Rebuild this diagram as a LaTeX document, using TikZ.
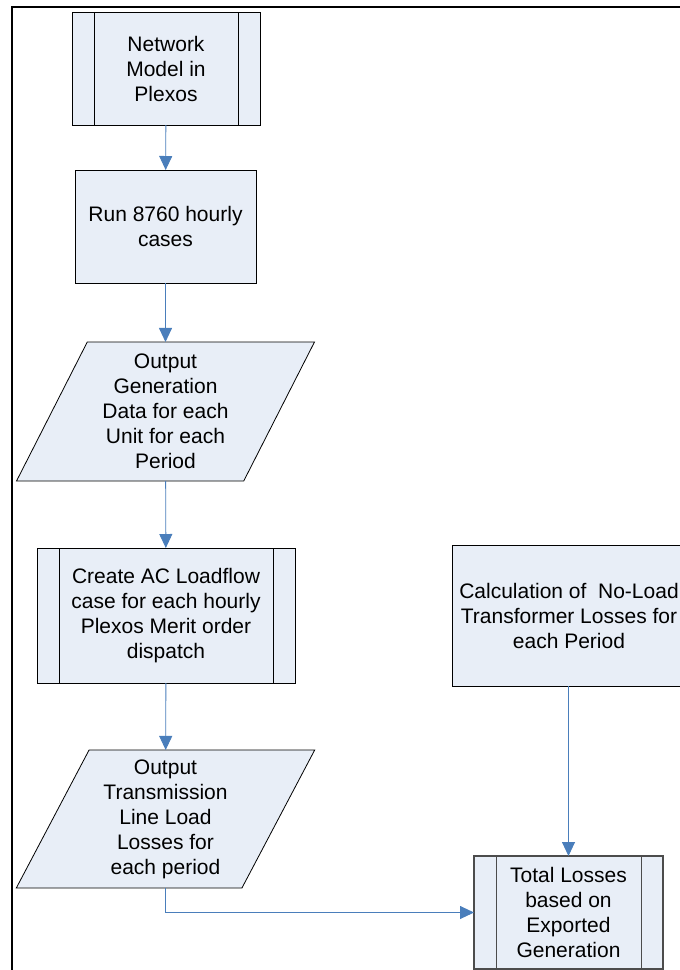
\documentclass[tikz,border=0pt]{standalone}
\usepackage{fontspec}
\setmainfont{Liberation Sans}
\usetikzlibrary{shapes.geometric,arrows.meta}
\definecolor{boxfill}{RGB}{232,238,247}
\definecolor{arrowblue}{RGB}{74,126,187}
\begin{document}
\begin{tikzpicture}[x=1pt,y=-1pt,
  every node/.style={font=\fontsize{21}{25}\selectfont, align=center, inner sep=0pt, outer sep=0pt},
  procbox/.style={draw=black, line width=0.8pt, fill=boxfill, rectangle},
  subproc/.style={procbox, path picture={\draw[line width=0.8pt]
      ([xshift=22pt]path picture bounding box.north west) -- ([xshift=22pt]path picture bounding box.south west)
      ([xshift=-22pt]path picture bounding box.north east) -- ([xshift=-22pt]path picture bounding box.south east);}},
  iobox/.style={draw=black, line width=0.8pt, fill=boxfill, trapezium, trapezium left angle=63.6,
      trapezium right angle=116.4, trapezium stretches=true, minimum width=299pt, minimum height=139pt},
  flow/.style={draw=arrowblue, line width=0.9pt, -{Triangle[length=14pt,width=13pt]}}]
\useasboundingbox (0,0) rectangle (680,970);
\clip (0,0) rectangle (680,970);
\draw[line width=2.5pt] (12,7) rectangle (740,1010);

\node[subproc, minimum width=188pt, minimum height=113pt] (net) at (166,68.5) {Network\\Model in\\Plexos};
\node[procbox, minimum width=181pt, minimum height=113pt] (run) at (165.5,226.5) {Run 8760 hourly\\cases};
\node[iobox] (gen) at (165.5,411.5) {Output\\Generation\\Data for each\\Unit for each\\Period};
\node[subproc, minimum width=258pt, minimum height=135pt] (ac) at (166,615.5) {Create AC Loadflow\\case for each hourly\\Plexos Merit order\\dispatch};
\node[iobox, minimum height=138pt] (tl) at (165.5,819) {Output\\Transmission\\Line Load\\Losses for\\each period};
\node[procbox, minimum width=234pt, minimum height=141pt] (calc) at (569,615.5) {Calculation of\ \ No-Load\\Transformer Losses for\\each Period};
\node[subproc, draw=black!70, line width=1.3pt, minimum width=189pt, minimum height=113pt] (tot) at (568.5,912.5) {Total Losses\\based on\\Exported\\Generation};

\draw[flow] (net) -- (run);
\draw[flow] (run) -- (gen);
\draw[flow] (gen) -- (ac);
\draw[flow] (ac) -- (tl);
\draw[flow] (tl.south) |- (tot.west);
\draw[flow] (calc.south -| tot.north) -- (tot.north);
\end{tikzpicture}
\end{document}
